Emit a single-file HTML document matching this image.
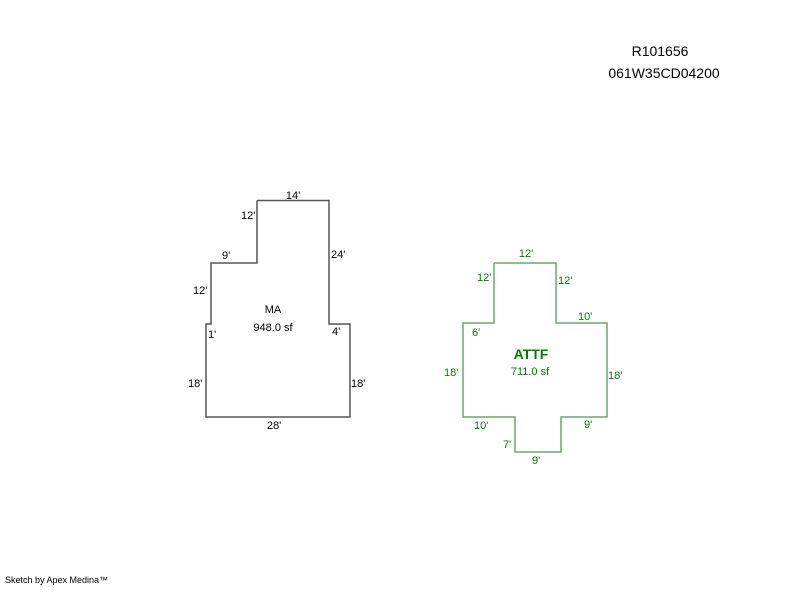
<!DOCTYPE html>
<html><head><meta charset="utf-8"><style>
body{margin:0;background:#fff;width:800px;height:587px;overflow:hidden}
svg text{font-family:"Liberation Sans",Arial,sans-serif;font-size:11px}
</style></head><body>
<svg width="800" height="587" xmlns="http://www.w3.org/2000/svg">
<text x="660" y="56" font-size="14" text-anchor="middle" style="font-size:14px">R101656</text>
<text x="664" y="78" text-anchor="middle" style="font-size:14px">061W35CD04200</text>
<polyline fill="none" stroke="#555" stroke-width="1.5" points="257,200.5 329,200.5 329,324 350,324 350,417 206,417 206,324 211,324 211,263 257,263 257,200.5"/>
<g fill="#000">
<text x="293" y="199" text-anchor="middle">14'</text>
<text x="241" y="219">12'</text>
<text x="331" y="258">24'</text>
<text x="222" y="259">9'</text>
<text x="193" y="294">12'</text>
<text x="273" y="313" text-anchor="middle">MA</text>
<text x="273" y="331" text-anchor="middle">948.0 sf</text>
<text x="208" y="338">1'</text>
<text x="332" y="335">4'</text>
<text x="188" y="387">18'</text>
<text x="351" y="387">18'</text>
<text x="274" y="429" text-anchor="middle">28'</text>
</g>
<polyline fill="none" stroke="#6aaa6a" stroke-width="1.5" points="494,263 556,263 556,323 607,323 607,417 561,417 561,452 515,452 515,417 463,417 463,323 494,323 494,263"/>
<g fill="#008000">
<text x="526" y="257" text-anchor="middle">12'</text>
<text x="477" y="281">12'</text>
<text x="558" y="284">12'</text>
<text x="578" y="320">10'</text>
<text x="472" y="336">6'</text>
<text x="531" y="359" text-anchor="middle" style="font-size:14px;font-weight:bold">ATTF</text>
<text x="530" y="375" text-anchor="middle">711.0 sf</text>
<text x="444" y="376">18'</text>
<text x="608" y="379">18'</text>
<text x="474" y="429">10'</text>
<text x="584" y="428">9'</text>
<text x="503" y="448">7'</text>
<text x="532" y="464">9'</text>
</g>
<text x="5" y="583" style="font-size:9px">Sketch by Apex Medina™</text>
</svg>
</body></html>
